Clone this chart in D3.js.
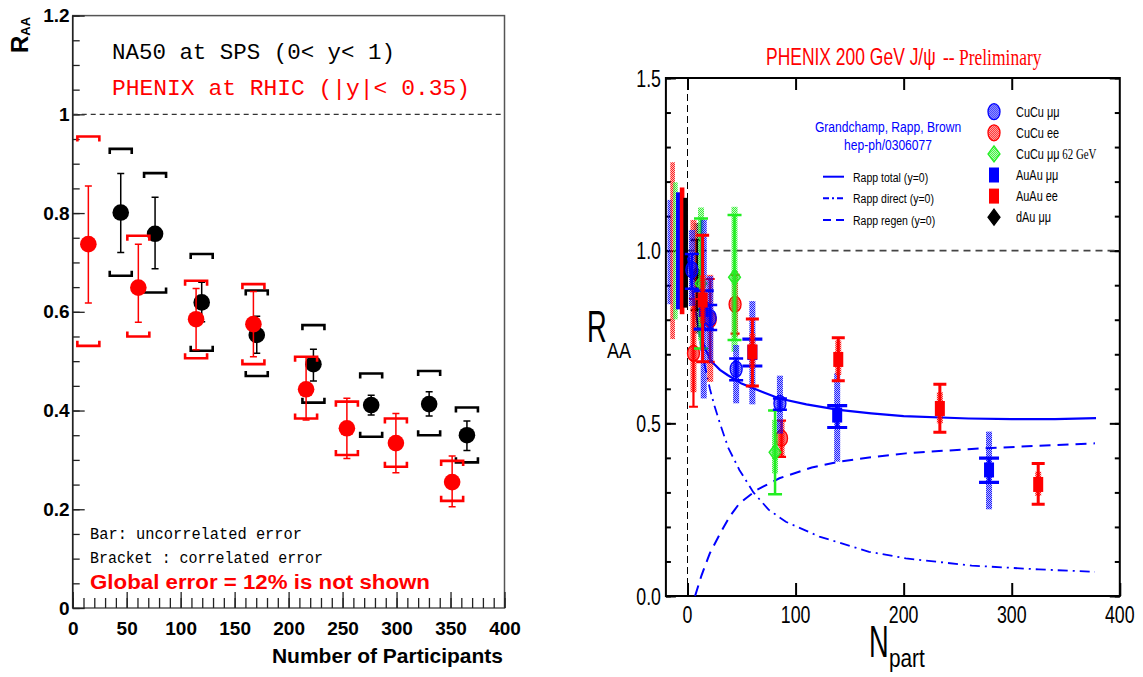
<!DOCTYPE html>
<html><head><meta charset="utf-8">
<script src="https://cdn.jsdelivr.net/npm/d3@7"></script>
<style>body{margin:0;background:#fff}svg{display:block}</style>
</head><body>
<svg id="c" width="1143" height="677"></svg>
<script>
// ================= LEFT PANEL DATA =================
const leftXTicks = [0, 50, 100, 150, 200, 250, 300, 350, 400];
const leftYTicks = [0, 0.2, 0.4, 0.6, 0.8, 1.0, 1.2];
const na50Npart  = [44.5, 76.3, 119.5, 170.5, 223, 276.5, 330.2, 365.2];
const na50Raa    = [0.801, 0.758, 0.619, 0.553, 0.494, 0.411, 0.413, 0.350];
const na50StatLo = [0.720, 0.687, 0.580, 0.516, 0.460, 0.391, 0.389, 0.319];
const na50StatHi = [0.880, 0.832, 0.660, 0.591, 0.524, 0.431, 0.438, 0.379];
const na50SysLo  = [0.673, 0.639, 0.521, 0.470, 0.416, 0.347, 0.350, 0.295];
const na50SysHi  = [0.930, 0.881, 0.717, 0.643, 0.573, 0.475, 0.480, 0.406];
const phxNpart   = [14.5, 60.8, 114.3, 167.4, 216.2, 254.0, 299.4, 351.5];
const phxRaa     = [0.737, 0.649, 0.585, 0.575, 0.443, 0.364, 0.334, 0.255];
const phxStatLo  = [0.618, 0.579, 0.523, 0.509, 0.381, 0.303, 0.274, 0.205];
const phxStatHi  = [0.855, 0.737, 0.647, 0.641, 0.509, 0.425, 0.394, 0.308];
const phxSysLo   = [0.531, 0.550, 0.506, 0.494, 0.384, 0.310, 0.286, 0.217];
const phxSysHi   = [0.955, 0.754, 0.663, 0.656, 0.509, 0.418, 0.384, 0.298];

// ================= RIGHT PANEL DATA =================
const rightXTicks = [0, 100, 200, 300, 400];
const rightYTicks = [0, 0.5, 1.0, 1.5];

const cucuMMNpart  = [4, 21, 45, 85.5];
const cucuMMRaa    = [0.945, 0.806, 0.657, 0.558];
const cucuMMStatLo = [0.890, 0.770, 0.625, 0.539];
const cucuMMStatHi = [0.990, 0.843, 0.688, 0.572];
const cucuMMSysLo  = [0.840, 0.674, 0.558, 0.470];
const cucuMMSysHi  = [1.060, 0.926, 0.727, 0.638];

const cucuEENpart  = [5.5, 21, 44, 87];
const cucuEERaa    = [0.703, 0.800, 0.845, 0.457];
const cucuEEStatLo = [0.548, 0.678, 0.760, 0.403];
const cucuEEStatHi = [0.860, 0.918, 0.930, 0.508];
const cucuEESysLo  = [0.590, 0.620, 0.750, 0.400];
const cucuEESysHi  = [1.089, 0.930, 0.940, 0.510];

const cucu62Npart  = [12.5, 43.5, 81];
const cucu62Raa    = [0.905, 0.923, 0.416];
const cucu62StatLo = [0.717, 0.741, 0.295];
const cucu62StatHi = [1.093, 1.103, 0.537];
const cucu62SysLo  = [0.740, 0.707, 0.355];
const cucu62SysHi  = [1.125, 1.127, 0.510];

const auauMMNpart  = [15, 60, 138.5, 279];
const auauMMRaa    = [0.830, 0.705, 0.524, 0.365];
const auauMMStatLo = [0.773, 0.666, 0.488, 0.329];
const auauMMStatHi = [0.884, 0.744, 0.551, 0.399];
const auauMMSysLo  = [0.572, 0.555, 0.389, 0.251];
const auauMMSysHi  = [1.089, 0.854, 0.646, 0.476];

const auauEENpart  = [14, 60, 139.5, 233.5, 324.5];
const auauEERaa    = [0.857, 0.707, 0.685, 0.543, 0.323];
const auauEEStatLo = [0.678, 0.608, 0.623, 0.474, 0.266];
const auauEEStatHi = [1.045, 0.802, 0.748, 0.613, 0.384];
const auauEESysLo  = [0.790, 0.660, 0.640, 0.500, 0.290];
const auauEESysHi  = [0.930, 0.760, 0.740, 0.590, 0.360];

const dauNpart  = [8.5];
const dauRaa    = [0.929];
const dauStatLo = [0.828];
const dauStatHi = [1.031];
const dauSysLo  = [0.760];
const dauSysHi  = [1.080];

// global uncertainty boxes (drawn left of Npart = 0)
const globalNpart = [-16.4, -13.8, -11.2, -8.5, -5.0, -1.7];
const globalLo    = [0.845, 0.744, 0.801, 0.830, 0.816, 0.835];
const globalHi    = [1.147, 1.256, 1.198, 1.169, 1.183, 1.153];

// Rapp model curves
const totalNpart  = [0.5, 3, 6, 11.5, 17.7, 22, 30, 37, 50, 70, 85, 110, 140, 170, 200, 260, 300, 340, 378];
const totalRaa    = [0.98, 0.93, 0.85, 0.756, 0.707, 0.68, 0.655, 0.64, 0.615, 0.59, 0.572, 0.555, 0.539, 0.529, 0.521, 0.514, 0.512, 0.512, 0.515];
const directNpart = [1, 5, 10, 13, 20.7, 25, 30, 37.6, 48, 61, 75, 91, 122, 168, 202, 263, 325, 377];
const directRaa   = [0.99, 0.88, 0.78, 0.71, 0.6, 0.55, 0.5, 0.43, 0.365, 0.3, 0.25, 0.215, 0.172, 0.128, 0.109, 0.088, 0.077, 0.07];
const regenNpart  = [7, 13, 20.7, 30, 39, 48, 64, 85, 115, 140, 168, 202, 263, 325, 377];
const regenRaa    = [0, 0.06, 0.124, 0.18, 0.23, 0.268, 0.307, 0.341, 0.372, 0.389, 0.401, 0.413, 0.426, 0.435, 0.442];

const markerLegend = ["CuCu μμ", "CuCu ee", "CuCu μμ", "AuAu μμ", "AuAu ee", "dAu μμ"];
const lineLegend   = ["Rapp total (y=0)", "Rapp direct (y=0)", "Rapp regen (y=0)"];

// ================= DRAWING =================
const svg = d3.select("#c");
const defs = svg.append("defs");
const SANS = "Liberation Sans, Arial, sans-serif";
const BLUE = "#0000ff", RED = "#ff0000", GREEN = "#22ee22";

function hatch(id, color) {
  const p = defs.append("pattern").attr("id", id).attr("patternUnits", "userSpaceOnUse")
    .attr("width", 2).attr("height", 2);
  p.append("rect").attr("width", 2).attr("height", 2).attr("fill", color).attr("fill-opacity", 0.25);
  p.append("rect").attr("width", 1).attr("height", 1).attr("fill", color).attr("fill-opacity", 0.85);
  p.append("rect").attr("x", 1).attr("y", 1).attr("width", 1).attr("height", 1).attr("fill", color).attr("fill-opacity", 0.85);
}
hatch("hB", BLUE); hatch("hR", RED); hatch("hG", GREEN); hatch("hK", "#000");

function ntext(g, x, y, str, o) {
  return g.append("text")
    .attr("transform", `translate(${x},${y}) scale(${o.sx || 1},1)`)
    .attr("text-anchor", o.anchor || "start")
    .attr("font-family", o.family || SANS)
    .attr("font-size", o.size)
    .attr("font-weight", o.weight || "normal")
    .attr("fill", o.fill || "#000")
    .text(str);
}

// ---------------- LEFT PANEL ----------------
const xL = d3.scaleLinear().domain([0, 400]).range([72.7, 504.5]);
const yL = d3.scaleLinear().domain([0, 1.2]).range([608, 15.6]);
const L = svg.append("g");

L.append("rect").attr("x", xL(0)).attr("y", yL(1.2))
  .attr("width", xL(400) - xL(0)).attr("height", yL(0) - yL(1.2))
  .attr("fill", "none").attr("stroke", "#555").attr("stroke-width", 1.5);

function styleAxis(g, size) {
  g.select(".domain").remove();
  g.selectAll("line").attr("stroke", "#222").attr("stroke-width", 1.3);
  g.selectAll("text").attr("font-family", SANS).attr("font-size", size)
    .attr("font-weight", "bold").attr("fill", "#000");
}
L.append("g").attr("transform", `translate(0,${yL(0)})`)
  .call(d3.axisBottom(xL).tickValues(d3.range(0, 401, 10)).tickSize(-10).tickFormat(""))
  .call(g => styleAxis(g, 0));
L.append("g").attr("transform", `translate(0,${yL(0)})`)
  .call(d3.axisBottom(xL).tickValues(leftXTicks).tickSize(-16).tickPadding(14).tickFormat(d3.format("d")))
  .call(g => styleAxis(g, 19));
L.append("g").attr("transform", `translate(${xL(0)},0)`)
  .call(d3.axisLeft(yL).tickValues(d3.range(0, 1.201, 0.05)).tickSize(-7).tickFormat(""))
  .call(g => styleAxis(g, 0));
L.append("g").attr("transform", `translate(${xL(0)},0)`)
  .call(d3.axisLeft(yL).tickValues(leftYTicks).tickSize(-12).tickPadding(3).tickFormat(d3.format("~g")))
  .call(g => styleAxis(g, 19));
L.append("line").attr("x1", xL(0)).attr("x2", xL(0)).attr("y1", yL(0)).attr("y2", yL(1.2))
  .attr("stroke", "#222").attr("stroke-width", 1.5);

// y label
const yl = L.append("text").attr("transform", "translate(28,53) rotate(-90)")
  .attr("font-family", SANS).attr("font-weight", "bold").attr("font-size", 24);
yl.append("tspan").text("R");
yl.append("tspan").attr("font-size", 13).attr("dy", 2).text("AA");

// x label
L.append("text").attr("x", 503).attr("y", 663).attr("text-anchor", "end")
  .attr("font-family", SANS).attr("font-weight", "bold").attr("font-size", 21).text("Number of Participants");

// dashed 1 line
L.append("line").attr("x1", xL(0)).attr("x2", xL(400)).attr("y1", yL(1)).attr("y2", yL(1))
  .attr("stroke", "#333").attr("stroke-width", 1.2).attr("stroke-dasharray", "5,4");

// header texts
const MONO = "Liberation Mono, DejaVu Sans Mono, monospace";
L.append("text").attr("x", 112).attr("y", 59).attr("font-family", MONO).attr("font-size", 22)
  .attr("textLength", 283).attr("lengthAdjust", "spacingAndGlyphs").attr("fill", "#000")
  .text("NA50 at SPS (0< y< 1)");
L.append("text").attr("x", 112).attr("y", 95).attr("font-family", MONO).attr("font-size", 22)
  .attr("textLength", 358).attr("lengthAdjust", "spacingAndGlyphs").attr("fill", RED)
  .text("PHENIX at RHIC (|y|< 0.35)");
L.append("text").attr("x", 90).attr("y", 539).attr("font-family", MONO).attr("font-size", 16)
  .attr("textLength", 212).attr("lengthAdjust", "spacingAndGlyphs").text("Bar: uncorrelated error");
L.append("text").attr("x", 90).attr("y", 563).attr("font-family", MONO).attr("font-size", 16)
  .attr("textLength", 233).attr("lengthAdjust", "spacingAndGlyphs").text("Bracket : correlated error");
L.append("text").attr("x", 90).attr("y", 589).attr("font-family", SANS).attr("font-size", 20)
  .attr("font-weight", "bold").attr("fill", RED).attr("textLength", 340).attr("lengthAdjust", "spacingAndGlyphs")
  .text("Global error =  12%  is not shown");

function drawLeftSeries(N, R, sLo, sHi, yLo, yHi, color) {
  const g = L.append("g");
  const idx = d3.range(N.length);
  const hw = 11, t = 5;
  // brackets
  g.selectAll(".bt").data(idx).join("path")
    .attr("d", i => { const cx = xL(N[i]), cy = yL(yHi[i]); return `M${cx - hw},${cy + t}V${cy}H${cx + hw}V${cy + t}`; })
    .attr("fill", "none").attr("stroke", color).attr("stroke-width", 2.6);
  g.selectAll(".bb").data(idx).join("path")
    .attr("d", i => { const cx = xL(N[i]), cy = yL(yLo[i]); return `M${cx - hw},${cy - t}V${cy}H${cx + hw}V${cy - t}`; })
    .attr("fill", "none").attr("stroke", color).attr("stroke-width", 2.6);
  // error bars
  g.selectAll(".eb").data(idx).join("path")
    .attr("d", i => { const cx = xL(N[i]), a = yL(sLo[i]), b = yL(sHi[i]);
      return `M${cx},${a}V${b}M${cx - 3.5},${a}H${cx + 3.5}M${cx - 3.5},${b}H${cx + 3.5}`; })
    .attr("fill", "none").attr("stroke", color).attr("stroke-width", 1.5);
  g.selectAll("circle").data(idx).join("circle")
    .attr("cx", i => xL(N[i])).attr("cy", i => yL(R[i])).attr("r", 8.3).attr("fill", color);
}
drawLeftSeries(na50Npart, na50Raa, na50StatLo, na50StatHi, na50SysLo, na50SysHi, "#000");
drawLeftSeries(phxNpart, phxRaa, phxStatLo, phxStatHi, phxSysLo, phxSysHi, RED);

// ---------------- RIGHT PANEL ----------------
const xR = d3.scaleLinear().domain([-20, 400]).range([665.9, 1119.8]);
const yR = d3.scaleLinear().domain([0, 1.5]).range([596, 78]);
const Rg = svg.append("g");

function styleR(g) {
  g.select(".domain").remove();
  g.selectAll("line").attr("stroke", "#000").attr("stroke-width", 2);
}
Rg.append("g").attr("transform", `translate(${xR(-20)},0)`)
  .call(d3.axisLeft(yR).tickValues(d3.range(0, 1.501, 0.1)).tickSize(-5).tickFormat("")).call(styleR);
Rg.append("g").attr("transform", `translate(${xR(-20)},0)`)
  .call(d3.axisLeft(yR).tickValues(rightYTicks).tickSize(-10).tickFormat("")).call(styleR);
Rg.append("g").attr("transform", `translate(${xR(400)},0)`)
  .call(d3.axisRight(yR).tickValues(d3.range(0, 1.501, 0.1)).tickSize(-5).tickFormat("")).call(styleR);
Rg.append("g").attr("transform", `translate(${xR(400)},0)`)
  .call(d3.axisRight(yR).tickValues(rightYTicks).tickSize(-10).tickFormat("")).call(styleR);
Rg.append("g").attr("transform", `translate(0,${yR(0)})`)
  .call(d3.axisBottom(xR).tickValues(rightXTicks).tickSize(-13).tickFormat("")).call(styleR);
Rg.append("g").attr("transform", `translate(0,${yR(1.5)})`)
  .call(d3.axisTop(xR).tickValues(rightXTicks.slice(0, 4)).tickSize(-12).tickFormat("")).call(styleR);
Rg.append("rect").attr("x", xR(-20)).attr("y", yR(1.5))
  .attr("width", xR(400) - xR(-20)).attr("height", yR(0) - yR(1.5))
  .attr("fill", "none").attr("stroke", "#000").attr("stroke-width", 2);

rightYTicks.forEach(v => ntext(Rg, 661, yR(v) + 8.5, d3.format(".1f")(v), { size: 24, sx: 0.74, anchor: "end" }));
rightXTicks.forEach(v => ntext(Rg, xR(v), 623, d3.format("d")(v), { size: 24, sx: 0.74, anchor: "middle" }));

ntext(Rg, 587, 342, "R", { size: 44, sx: 0.62 });
ntext(Rg, 607, 358, "AA", { size: 22, sx: 0.82 });
ntext(Rg, 869, 657, "N", { size: 44, sx: 0.62 });
ntext(Rg, 889, 667, "part", { size: 26, sx: 0.8 });

// title
ntext(Rg, 766, 65, "PHENIX 200 GeV J/ψ", { size: 23, sx: 0.76, fill: RED });
ntext(Rg, 943, 65, "-- Preliminary", { size: 23, sx: 0.76, fill: RED, family: "Liberation Serif, Times New Roman, serif" });

// reference lines
Rg.append("line").attr("x1", xR(0)).attr("x2", xR(0)).attr("y1", yR(0)).attr("y2", yR(1.5))
  .attr("stroke", "#000").attr("stroke-width", 1).attr("stroke-dasharray", "7,4");
Rg.append("line").attr("x1", xR(0)).attr("x2", xR(400)).attr("y1", yR(1)).attr("y2", yR(1))
  .attr("stroke", "#444").attr("stroke-width", 1.6).attr("stroke-dasharray", "7,5");

// global boxes
const globalFill = ["url(#hB)", "url(#hR)", "url(#hG)", BLUE, RED, "#000"];
Rg.selectAll(".glob").data(d3.range(globalNpart.length)).join("rect")
  .attr("x", i => xR(globalNpart[i]) - 2.3).attr("width", 4.6)
  .attr("y", i => yR(globalHi[i])).attr("height", i => yR(globalLo[i]) - yR(globalHi[i]))
  .attr("fill", i => globalFill[i]);

// theory curves
function curve(N, R) {
  return d3.line().x(i => xR(N[i])).y(i => yR(R[i]))(d3.range(N.length));
}
Rg.append("path").attr("d", curve(regenNpart, regenRaa)).attr("fill", "none")
  .attr("stroke", BLUE).attr("stroke-width", 2).attr("stroke-dasharray", "11,7");
Rg.append("path").attr("d", curve(directNpart, directRaa)).attr("fill", "none")
  .attr("stroke", BLUE).attr("stroke-width", 1.8).attr("stroke-dasharray", "10,5,2,5");
Rg.append("path").attr("d", curve(totalNpart, totalRaa)).attr("fill", "none")
  .attr("stroke", BLUE).attr("stroke-width", 2.2);

// markers
function marker(g, shape, color, fill) {
  if (shape === "ellipse") return g.append("ellipse").attr("rx", 6).attr("ry", 8).attr("fill", fill).attr("stroke", color).attr("stroke-width", 1.3);
  if (shape === "diamond") return g.append("path").attr("d", "M0,-8L6,0L0,8L-6,0Z").attr("fill", fill).attr("stroke", color).attr("stroke-width", 1.3);
  return g.append("rect").attr("x", -5).attr("y", -7.5).attr("width", 10).attr("height", 15).attr("fill", fill);
}

function drawRightSeries(N, R, sLo, sHi, yLo, yHi, st) {
  const g = Rg.append("g");
  const idx = d3.range(N.length);
  g.selectAll(".sys").data(idx).join("rect")
    .attr("x", i => xR(N[i]) - 3).attr("width", 6)
    .attr("y", i => yR(yHi[i])).attr("height", i => yR(yLo[i]) - yR(yHi[i]))
    .attr("fill", st.hatch);
  g.selectAll(".stat").data(idx).join("path")
    .attr("d", i => { const cx = xR(N[i]), a = yR(sLo[i]), b = yR(sHi[i]), c = st.cap / 2;
      return `M${cx},${a}V${b}M${cx - c},${a}H${cx + c}M${cx - c},${b}H${cx + c}`; })
    .attr("fill", "none").attr("stroke", st.color).attr("stroke-width", st.lw);
  idx.forEach(i => {
    const m = g.append("g").attr("transform", `translate(${xR(N[i])},${yR(R[i])})`);
    marker(m, st.shape, st.color, st.fill);
  });
}
drawRightSeries(dauNpart, dauRaa, dauStatLo, dauStatHi, dauSysLo, dauSysHi,
  { color: "#000", hatch: "url(#hK)", fill: "#000", shape: "diamond", cap: 12, lw: 2.5 });
drawRightSeries(cucuEENpart, cucuEERaa, cucuEEStatLo, cucuEEStatHi, cucuEESysLo, cucuEESysHi,
  { color: RED, hatch: "url(#hR)", fill: "url(#hR)", shape: "ellipse", cap: 9, lw: 2.2 });
drawRightSeries(cucu62Npart, cucu62Raa, cucu62StatLo, cucu62StatHi, cucu62SysLo, cucu62SysHi,
  { color: GREEN, hatch: "url(#hG)", fill: "url(#hG)", shape: "diamond", cap: 14, lw: 2.5 });
drawRightSeries(cucuMMNpart, cucuMMRaa, cucuMMStatLo, cucuMMStatHi, cucuMMSysLo, cucuMMSysHi,
  { color: BLUE, hatch: "url(#hB)", fill: "url(#hB)", shape: "ellipse", cap: 14, lw: 2.5 });
drawRightSeries(auauMMNpart, auauMMRaa, auauMMStatLo, auauMMStatHi, auauMMSysLo, auauMMSysHi,
  { color: BLUE, hatch: "url(#hB)", fill: BLUE, shape: "square", cap: 20, lw: 3.2 });
drawRightSeries(auauEENpart, auauEERaa, auauEEStatLo, auauEEStatHi, auauEESysLo, auauEESysHi,
  { color: RED, hatch: "url(#hR)", fill: RED, shape: "square", cap: 13, lw: 3 });

// legend: model reference
ntext(Rg, 888, 132, "Grandchamp, Rapp, Brown", { size: 15.5, sx: 0.78, anchor: "middle", fill: BLUE });
ntext(Rg, 888, 150, "hep-ph/0306077", { size: 15.5, sx: 0.78, anchor: "middle", fill: BLUE });
const lineDash = [null, "6,3,2,3", "8,5"];
lineLegend.forEach((s, i) => {
  const y = 176.7 + i * 21.6;
  Rg.append("line").attr("x1", 823).attr("x2", 844).attr("y1", y).attr("y2", y)
    .attr("stroke", BLUE).attr("stroke-width", 2).attr("stroke-dasharray", lineDash[i]);
  ntext(Rg, 853, y + 5, s, { size: 13.5, sx: 0.78 });
});
// legend: markers
const legShape = ["ellipse", "ellipse", "diamond", "square", "square", "diamond"];
const legColor = [BLUE, RED, GREEN, BLUE, RED, "#000"];
const legFill = ["url(#hB)", "url(#hR)", "url(#hG)", BLUE, RED, "#000"];
markerLegend.forEach((s, i) => {
  const y = 111.7 + i * 21.1;
  const m = Rg.append("g").attr("transform", `translate(994,${y})`);
  marker(m, legShape[i], legColor[i], legFill[i]);
  const t = ntext(Rg, 1016, y + 5, s, { size: 14, sx: 0.78 });
  if (i === 2) t.append("tspan").attr("font-family", "Liberation Serif, Times New Roman, serif").text(" 62 GeV");
});
</script>
</body></html>
